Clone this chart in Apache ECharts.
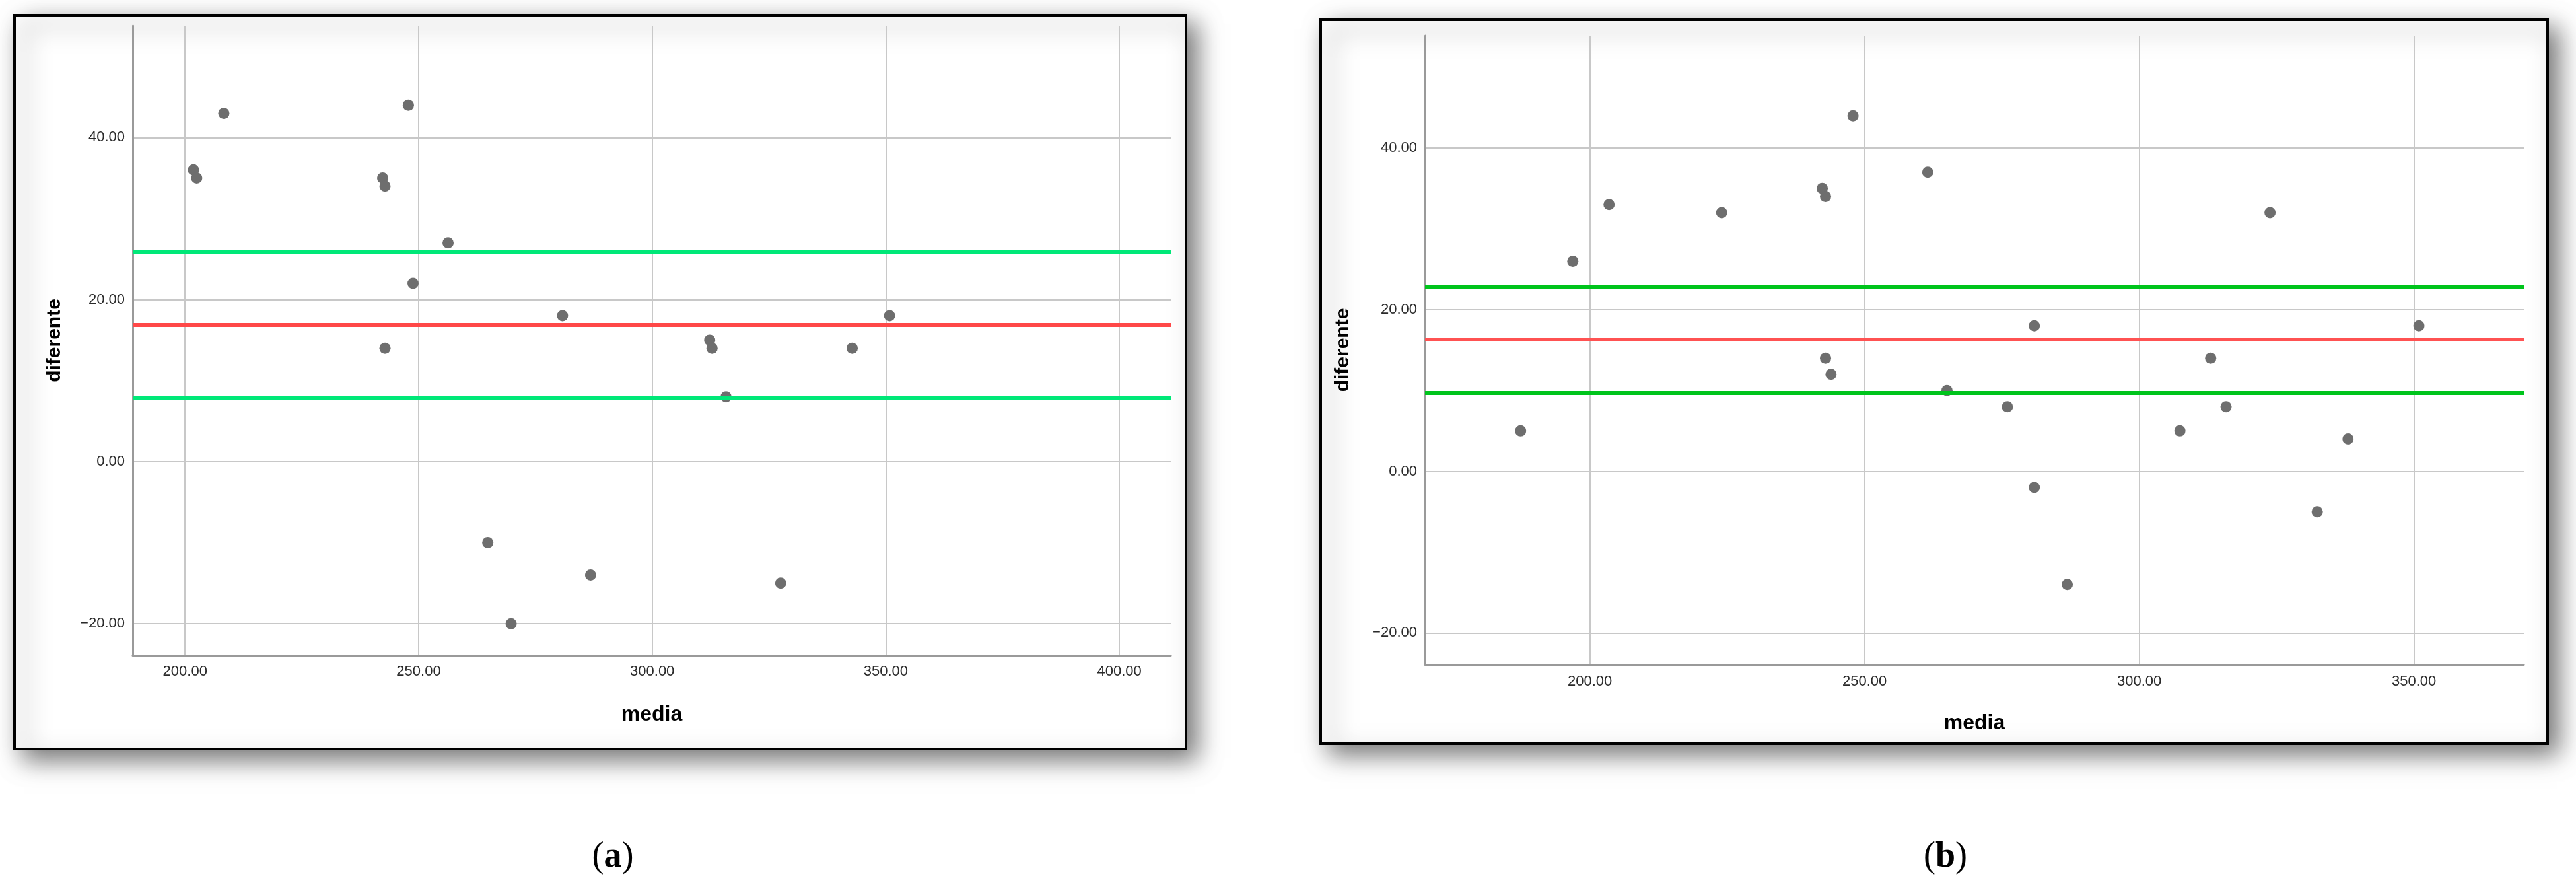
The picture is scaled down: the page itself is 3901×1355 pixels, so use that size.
<!DOCTYPE html>
<html>
<head>
<meta charset="utf-8">
<title>media / diferente</title>
<script src="https://cdn.jsdelivr.net/npm/echarts@6/dist/echarts.min.js"></script>
<style>
    html, body { margin: 0; padding: 0; background: #fff; }
    #chart { width: 3901px; height: 1355px; }
</style>
</head>
<body>
<div id="chart"></div>
<script>
// panel (a)
var mediaA = [208.3, 201.8, 202.5, 247.8, 242.3, 242.8, 256.3, 248.8, 242.8, 280.8,
    312.3, 312.8, 315.8, 342.8, 350.8, 264.8, 286.8, 269.8, 327.5];
var difA = [43, 36, 35, 44, 35, 34, 27, 22, 14, 18,
    15, 14, 8, 14, 18, -10, -14, -20, -15];
var limitsA = [25.9, 16.9, 7.9]; // upper, mean, lower

// panel (b)
var mediaB = [187.4, 196.9, 203.5, 224.0, 242.3, 242.9, 247.9, 242.9, 243.9, 261.5, 265.0,
    276.0, 280.9, 280.9, 286.9, 307.4, 313.0, 315.8, 323.8, 332.4, 338.0, 350.9];
var difB = [5, 26, 33, 32, 35, 34, 44, 14, 12, 37, 10,
    8, 18, -2, -14, 5, 14, 8, 32, -5, 4, 18];
var limitsB = [22.9, 16.3, 9.7];

var xTicksA = [200, 250, 300, 350, 400];
var xTicksB = [200, 250, 300, 350];
var yTicks = [-20, 0, 20, 40];
var panelNames = ['a', 'b'];

var fmt = function (v) {
    return v.toFixed(2).replace('-', '\u2212');
};

function xAxisOf(idx, min, max, ticks, labelMargin, nameGap) {
    return {
        type: 'value',
        gridIndex: idx,
        min: min,
        max: max,
        name: 'media',
        nameLocation: 'middle',
        nameGap: nameGap,
        nameTextStyle: { fontFamily: 'Liberation Sans', fontWeight: 'bold', fontSize: 32, color: '#000' },
        axisLine: { onZero: false, lineStyle: { color: '#9a9a9a', width: 3 } },
        axisTick: { show: false, customValues: ticks },
        axisLabel: {
            customValues: ticks,
            formatter: fmt,
            margin: labelMargin,
            fontFamily: 'Liberation Sans',
            fontSize: 22,
            color: '#2a2a2a'
        },
        splitLine: { show: true, lineStyle: { color: '#c8c8c8', width: 2 } }
    };
}

function yAxisOf(idx, min, max, nameGap) {
    return {
        type: 'value',
        gridIndex: idx,
        min: min,
        max: max,
        name: 'diferente',
        nameLocation: 'middle',
        nameGap: nameGap,
        nameTextStyle: { fontFamily: 'Liberation Sans', fontWeight: 'bold', fontSize: 30, color: '#000' },
        axisLine: { show: true, onZero: false, lineStyle: { color: '#9a9a9a', width: 3 } },
        axisTick: { show: false, customValues: yTicks },
        axisLabel: {
            customValues: yTicks,
            formatter: fmt,
            margin: 12,
            fontFamily: 'Liberation Sans',
            fontSize: 22,
            color: '#2a2a2a'
        },
        splitLine: { show: true, lineStyle: { color: '#c8c8c8', width: 2 } }
    };
}

function limitLines(idx, limits, green, red) {
    var w = 6;
    return {
        type: 'scatter',
        xAxisIndex: idx,
        yAxisIndex: idx,
        data: [],
        z: 1,
        markLine: {
            silent: true,
            animation: false,
            symbol: ['none', 'none'],
            label: { show: false },
            data: [
                { yAxis: limits[0], lineStyle: { color: green, width: w, type: 'solid' } },
                { yAxis: limits[1], lineStyle: { color: red, width: w, type: 'solid' } },
                { yAxis: limits[2], lineStyle: { color: green, width: w, type: 'solid' } }
            ]
        }
    };
}

function points(idx, xs, ys) {
    return {
        type: 'scatter',
        xAxisIndex: idx,
        yAxisIndex: idx,
        z: 3,
        symbolSize: 17,
        itemStyle: { color: '#6e6e6e', opacity: 1 },
        data: xs.map(function (x, i) { return [x, ys[i]]; })
    };
}

function frame(x, y, w, h) {
    return {
        type: 'rect',
        z: -10,
        shape: { x: x, y: y, width: w, height: h },
        style: {
            fill: '#fff',
            stroke: '#000',
            lineWidth: 4,
            shadowBlur: 36,
            shadowOffsetX: 14,
            shadowOffsetY: 14,
            shadowColor: 'rgba(0,0,0,0.55)'
        },
        silent: true
    };
}

function panelLabel(cx, cy, letter) {
    return {
        type: 'text',
        x: cx,
        y: cy,
        style: {
            text: '{p|(}{l|' + letter + '}{p|)}',
            align: 'center',
            verticalAlign: 'middle',
            rich: {
                p: { fontFamily: 'Liberation Serif', fontSize: 54, fill: '#000' },
                l: { fontFamily: 'Liberation Serif', fontSize: 54, fontWeight: 'bold', fill: '#000' }
            }
        }
    };
}

var chart = echarts.init(document.getElementById('chart'), null, { renderer: 'canvas' });
chart.setOption({
    animation: false,
    backgroundColor: '#fff',
    graphic: [
        frame(22, 23, 1774, 1111),
        frame(2000, 30, 1858, 1096),
        panelLabel(928, 1298, panelNames[0]),
        panelLabel(2946, 1298, panelNames[1])
    ],
    grid: [
        { left: 201, top: 39, width: 1572, height: 953 },
        { left: 2158, top: 54, width: 1664, height: 952 }
    ],
    xAxis: [
        xAxisOf(0, 188.8, 411, xTicksA, 14, 74),
        xAxisOf(1, 170, 370, xTicksB, 15, 73)
    ],
    yAxis: [
        yAxisOf(0, -23.9, 53.8, 103),
        yAxisOf(1, -23.9, 53.9, 109)
    ],
    series: [
        limitLines(0, limitsA, '#00e878', '#ff4848'),
        points(0, mediaA, difA),
        limitLines(1, limitsB, '#00c41c', '#ff5252'),
        points(1, mediaB, difB)
    ]
});
</script>
</body>
</html>
